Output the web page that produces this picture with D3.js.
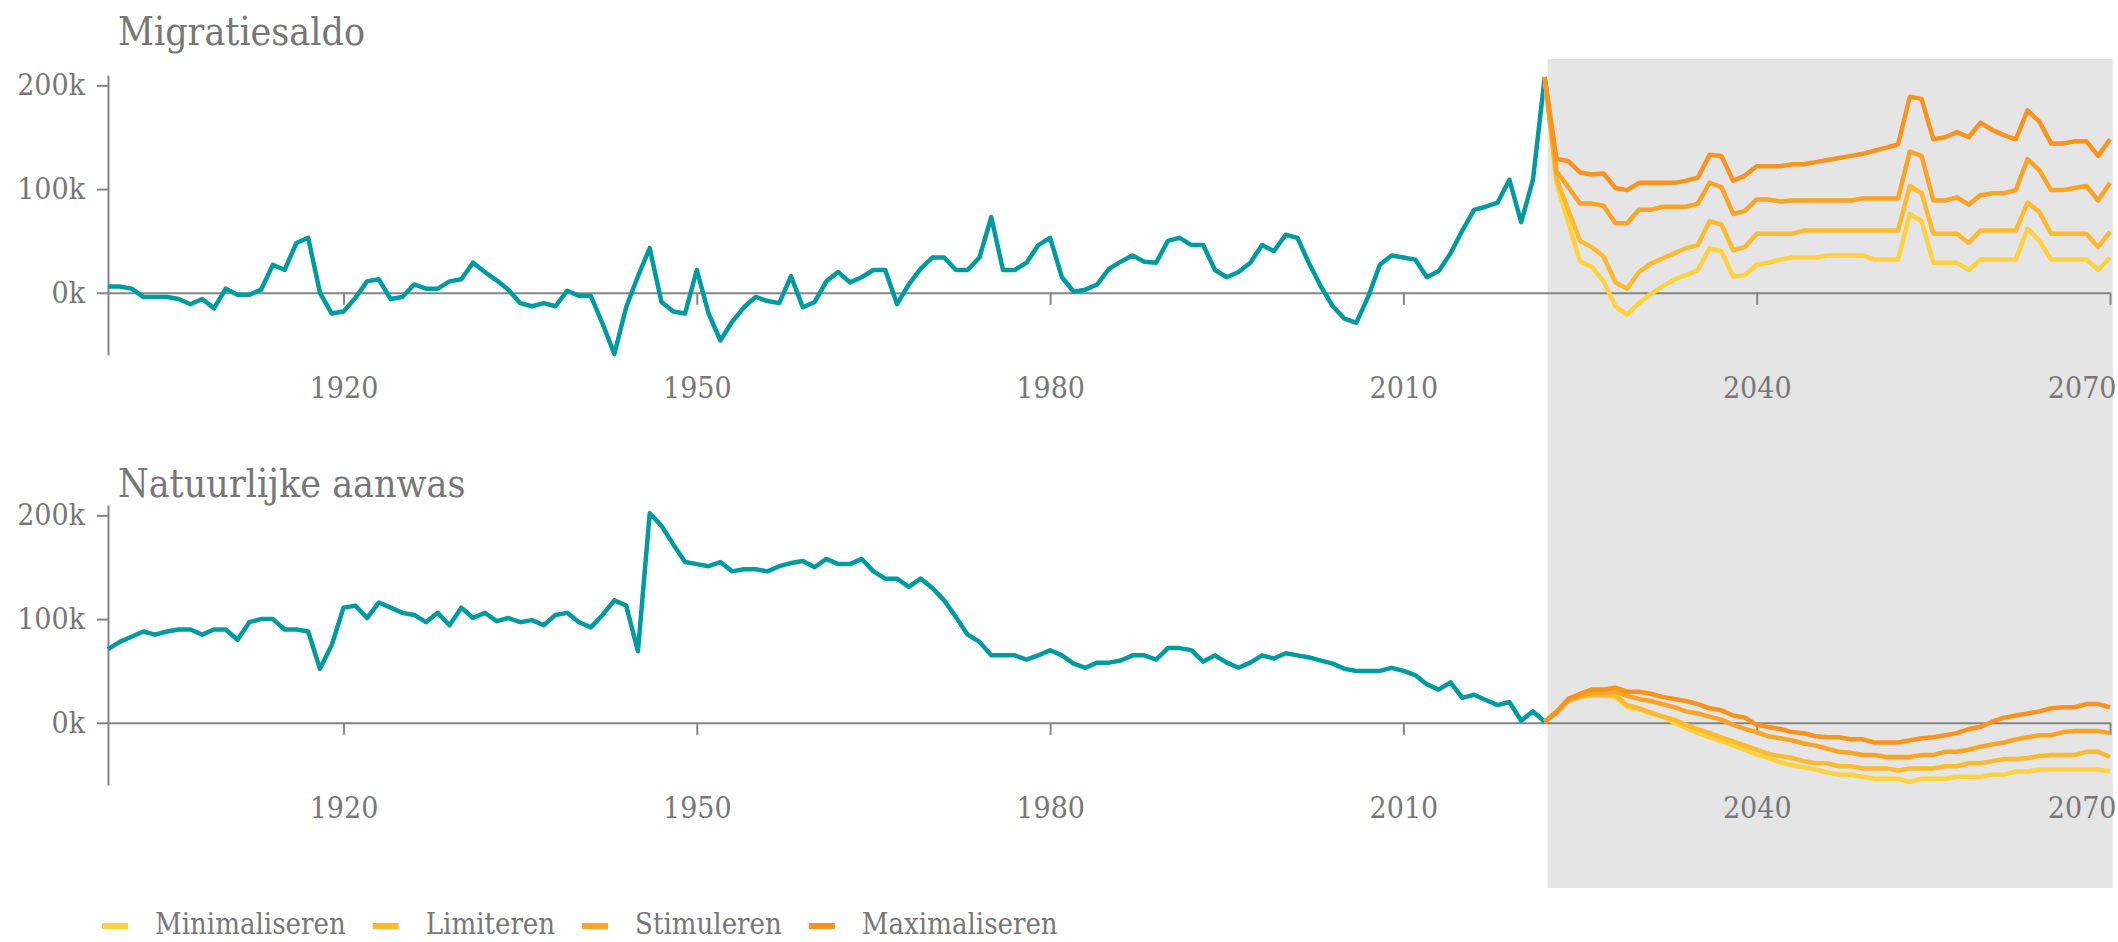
<!DOCTYPE html>
<html>
<head>
<meta charset="utf-8">
<script src="https://cdn.jsdelivr.net/npm/d3@7"></script>
<style>
  html, body { margin: 0; padding: 0; background: #fff; }
  svg { display: block; }
  .axis path, .axis line { stroke: #858585; stroke-width: 2; }
  .axis text { fill: #777; }
</style>
</head>
<body>
<div id="chart"></div>
<script>
const FONT = "'DejaVu Serif Condensed', 'DejaVu Serif', serif";

// years
const histStart = 1900;   // historical series 1900..2022
const projStart = 2022;   // projections 2022..2070
const xTicks = [1920, 1950, 1980, 2010, 2040, 2070];
const yTicks = [0, 100000, 200000];

// Migratiesaldo, x1000
const migHist = [
  6, 6, 4, -4, -4, -4, -6, -11, -6, -15,
  4, -2, -2, 3, 27, 22, 48, 53, 0, -20,
  -18, -5, 11, 13, -6, -4, 8, 4, 4, 11,
  13, 29, 20, 12, 3, -10, -13, -10, -13, 2,
  -3, -3, -30, -59, -14, 16, 43, -9, -18, -20,
  22, -20, -46, -28, -14, -4, -8, -10, 16, -14,
  -9, 11, 20, 10, 15, 22, 22, -11, 8, 23,
  34, 34, 22, 22, 34, 73, 22, 22, 29, 46,
  53, 15, 1, 3, 8, 23, 30, 36, 30, 29,
  50, 53, 46, 46, 22, 15, 20, 29, 46, 40,
  56, 53, 28, 6, -13, -25, -29, -4, 27, 36,
  34, 32, 15, 21, 38, 60, 80, 83, 87, 109,
  68, 109, 208
];
const migMin = [208, 106, 68, 30, 25, 11, -13, -21, -10, -1, 6, 13, 17, 22, 43, 40, 16, 17, 27, 29, 32, 34, 34, 34, 36, 36, 36, 36, 32, 32, 32, 76, 69, 29, 29, 29, 22, 32, 32, 32, 32, 62, 50, 32, 32, 32, 32, 22, 34];
const migLim = [208, 110, 80, 50, 44, 35, 10, 4, 20, 28, 33, 38, 43, 46, 69, 66, 41, 44, 57, 57, 57, 57, 60, 60, 60, 60, 60, 60, 60, 60, 60, 103, 96, 57, 57, 57, 48, 60, 60, 60, 60, 87, 78, 57, 57, 57, 57, 44, 59];
const migStim = [208, 117, 102, 86, 86, 84, 67, 67, 80, 80, 83, 83, 83, 86, 106, 102, 76, 79, 90, 90, 88, 89, 89, 89, 89, 89, 89, 91, 91, 91, 91, 136, 132, 89, 89, 92, 85, 94, 96, 96, 99, 129, 118, 99, 99, 101, 103, 89, 106];
const migMax = [208, 129, 127, 116, 114, 115, 101, 99, 106, 106, 106, 106, 108, 111, 133, 132, 108, 113, 122, 122, 122, 124, 124, 126, 128, 130, 132, 134, 137, 140, 143, 189, 187, 148, 150, 155, 150, 164, 157, 152, 148, 176, 165, 144, 144, 146, 146, 132, 148];

// Natuurlijke aanwas, x1000
const natHist = [
  71, 78, 83, 88, 85, 88, 90, 90, 85, 90,
  90, 80, 97, 100, 100, 90, 90, 88, 52, 75,
  111, 113, 101, 116, 111, 106, 104, 97, 106, 94,
  111, 101, 106, 98, 101, 97, 99, 94, 104, 106,
  97, 92, 104, 118, 113, 69, 202, 190, 172, 155,
  153, 151, 155, 146, 148, 148, 146, 151, 154, 156,
  150, 158, 153, 153, 158, 146, 139, 139, 131, 139,
  130, 118, 102, 85, 78, 65, 65, 65, 61, 65,
  70, 65, 57, 53, 58, 58, 60, 65, 65, 61,
  72, 72, 70, 59, 65, 58, 53, 58, 65, 62,
  67, 65, 63, 60, 57, 52, 50, 50, 50, 53,
  50, 46, 37, 32, 39, 24, 27, 22, 17, 20,
  2, 11, 1
];
const natMin = [1, 10, 21, 25, 26, 26, 25, 15, 13, 9, 6, 0, -5, -10, -14, -18, -22, -26, -31, -34, -38, -41, -43, -45, -48, -50, -50, -52, -54, -54, -54, -57, -54, -54, -54, -52, -52, -52, -50, -50, -47, -47, -45, -45, -45, -45, -45, -45, -47];
const natLim = [1, 10, 21, 25, 27, 27, 27, 17, 14, 10, 6, 3, -2, -6, -10, -14, -18, -22, -26, -30, -32, -34, -37, -39, -39, -42, -42, -44, -44, -44, -46, -44, -44, -44, -42, -42, -39, -39, -37, -35, -35, -34, -32, -31, -31, -31, -28, -28, -33];
const natStim = [1, 11, 22, 26, 29, 29, 30, 26, 23, 21, 18, 15, 11, 9, 6, 3, -2, -6, -9, -13, -15, -17, -20, -22, -25, -28, -29, -31, -31, -33, -33, -33, -31, -31, -28, -28, -26, -23, -21, -19, -16, -14, -12, -12, -9, -8, -8, -8, -10];
const natMax = [1, 10, 23, 28, 32, 32, 34, 30, 30, 28, 25, 23, 21, 18, 14, 12, 7, 5, -2, -4, -6, -9, -10, -13, -14, -14, -16, -16, -19, -19, -19, -17, -15, -14, -12, -10, -6, -4, 1, 5, 7, 9, 11, 14, 15, 15, 18, 18, 15];

const scenarios = ["Minimaliseren", "Limiteren", "Stimuleren", "Maximaliseren"];
const scenarioColors = ["#fed23e", "#fdb92f", "#f9a424", "#f7931e"];
const histColor = "#009ba1";

const panels = [
  { title: "Migratiesaldo", hist: migHist, proj: [migMin, migLim, migStim, migMax],
    yRange: [355, 75], titleY: 45, labelY: 398 },
  { title: "Natuurlijke aanwas", hist: natHist, proj: [natMin, natLim, natStim, natMax],
    yRange: [785, 505], titleY: 497, labelY: 818 }
];

const width = 2118;
const height = 942;

const svg = d3.select("#chart").append("svg")
  .attr("width", width)
  .attr("height", height)
  .attr("font-family", FONT);

const x = d3.scaleLinear().domain([1900, 2070]).range([108, 2110]);

// projection period shading
svg.append("rect")
  .attr("x", x(2022.25))
  .attr("y", 59)
  .attr("width", 2113 - x(2022.25))
  .attr("height", 888 - 59)
  .attr("fill", "#e5e5e5");

function toPoints(values, start) {
  return values.map((v, i) => ({ year: start + i, value: v * 1000 }));
}

function renderPanel(p) {
  const y = d3.scaleLinear().domain([-60000, 210000]).range(p.yRange);
  const g = svg.append("g");

  // title
  g.append("text")
    .attr("x", 118)
    .attr("y", p.titleY)
    .attr("font-size", 39)
    .attr("fill", "#777")
    .text(p.title);

  // y axis
  g.append("g")
    .attr("class", "axis")
    .attr("transform", `translate(${x(1900)},0)`)
    .call(d3.axisLeft(y)
      .tickValues(yTicks)
      .tickFormat(d => `${d / 1000}k`)
      .tickSize(11)
      .tickSizeOuter(0)
      .tickPadding(12))
    .call(a => a.selectAll("text").attr("font-size", 30).attr("font-family", FONT));

  // x axis on the zero line, labels pushed below the panel
  const y0 = y(0);
  g.append("g")
    .attr("class", "axis")
    .attr("transform", `translate(0,${y0})`)
    .call(d3.axisBottom(x)
      .tickValues(xTicks)
      .tickFormat(d3.format("d"))
      .tickSize(12)
      .tickSizeOuter(0))
    .call(a => a.selectAll("text")
      .attr("font-size", 30)
      .attr("font-family", FONT)
      .attr("y", p.labelY - y0)
      .attr("dy", "0"))
    .call(a => a.selectAll(".tick:last-of-type text")
      .attr("text-anchor", "end")
      .attr("x", 6));

  const line = d3.line()
    .x(d => x(d.year))
    .y(d => y(d.value));

  g.append("path")
    .datum(toPoints(p.hist, histStart))
    .attr("fill", "none")
    .attr("stroke", histColor)
    .attr("stroke-width", 4.5)
    .attr("stroke-linejoin", "round")
    .attr("d", line);

  p.proj.forEach((vals, i) => {
    g.append("path")
      .datum(toPoints(vals, projStart))
      .attr("fill", "none")
      .attr("stroke", scenarioColors[i])
      .attr("stroke-width", 4.5)
      .attr("stroke-linejoin", "round")
      .attr("d", line);
  });
}

panels.forEach(renderPanel);

// legend
const legend = svg.append("g").attr("transform", "translate(102,926)");
let lx = 0;
scenarios.forEach((name, i) => {
  legend.append("rect")
    .attr("x", lx)
    .attr("y", -3)
    .attr("width", 26)
    .attr("height", 6)
    .attr("fill", scenarioColors[i]);
  const t = legend.append("text")
    .attr("x", lx + 53)
    .attr("y", 8)
    .attr("font-size", 29)
    .attr("fill", "#777")
    .text(name);
  lx += 53 + t.node().getComputedTextLength() + 27;
});
</script>
</body>
</html>
